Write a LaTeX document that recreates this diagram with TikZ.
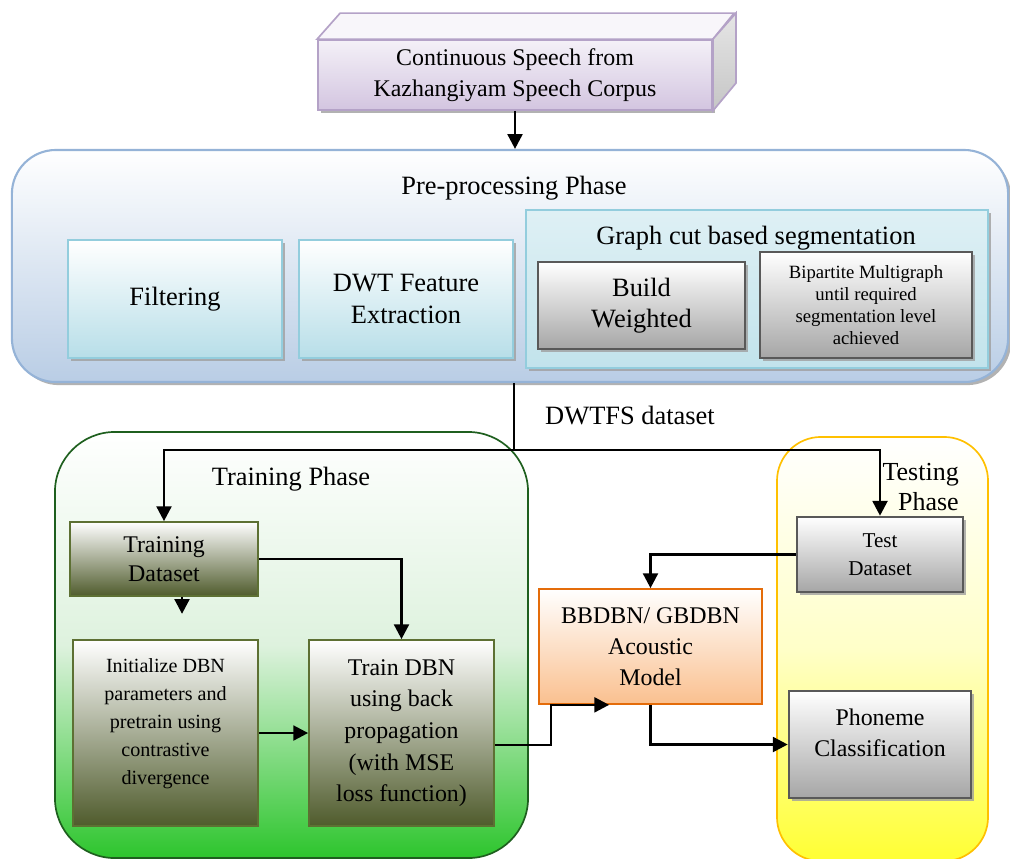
\documentclass[tikz,border=0pt]{standalone}
\usepackage{fontspec}
\setmainfont{Liberation Serif}
\usetikzlibrary{arrows.meta,shadows}

\definecolor{lavender}{RGB}{211,197,224}
\definecolor{lavedge}{RGB}{180,162,199}
\definecolor{skyfill}{RGB}{185,205,229}
\definecolor{skyedge}{RGB}{149,179,215}
\definecolor{aquafill}{RGB}{183,222,232}
\definecolor{aquaedge}{RGB}{147,205,221}
\definecolor{olive}{RGB}{79,91,44}
\definecolor{oliveedge}{RGB}{93,112,51}
\definecolor{leaf}{RGB}{45,197,45}
\definecolor{leafmid}{RGB}{222,242,222}
\definecolor{leafedge}{RGB}{30,95,30}
\definecolor{peach}{RGB}{250,192,143}
\definecolor{rust}{RGB}{228,108,10}
\definecolor{lemon}{RGB}{255,255,51}
\definecolor{lemonmid}{RGB}{255,255,200}
\definecolor{gold}{RGB}{255,192,0}

\tikzset{
    arr/.style={-{Triangle[length=10.5pt,width=10.5pt]}, line width=1.9pt},
    bigfont/.style={font=\fontsize{18.8}{22.5}\selectfont},
    shade/.style={drop shadow={shadow xshift=2.2pt, shadow yshift=-2.2pt, fill=gray!75, opacity=0.8}},
    aquabox/.style={draw=aquaedge, line width=1.6pt, top color=white, bottom color=aquafill,
        align=center, inner sep=0pt, bigfont, shade},
    graybox/.style={draw=black!65, line width=1.8pt, top color=white, bottom color=black!35,
        align=center, inner sep=0pt, shade},
    olivebox/.style={draw=oliveedge, line width=1.2pt, top color=white, bottom color=olive,
        align=center, inner sep=0pt}
}

\begin{document}
\begin{tikzpicture}[x=0.025cm, y=-0.025cm]
    \useasboundingbox (0,0) rectangle (1010,858);

    \node[draw=leafedge, line width=1.2pt, rounded corners=1.5cm, top color=white, bottom color=leaf, middle color=leafmid,
        minimum width=11.825cm, minimum height=10.65cm] (trainphase) at (291.5,645) {};
    \node[draw=gold, line width=1.2pt, rounded corners=1.1cm, top color=white, bottom color=lemon, middle color=lemonmid,
        minimum width=5.275cm, minimum height=10.6cm] (testphase) at (882.5,649) {};

    \node[draw=lavedge, line width=1.2pt, top color=lavender!25, bottom color=lavender, minimum width=9.85cm, minimum height=1.75cm,
        align=center, inner sep=0pt, font=\fontsize{17}{22}\selectfont, shade] (corpus) at (515,75) {Continuous Speech from\\Kazhangiyam Speech Corpus};
    \draw[draw=lavedge, line width=1.2pt, fill=lavender!15] (corpus.north west) -- ++(23,-26) -- ++(394,0) -- (corpus.north east) -- cycle;
    \draw[draw=lavedge, line width=1.2pt, top color=gray!20, bottom color=gray!45] (corpus.north east) -- ++(23,-26) -- ++(0,70) -- (corpus.south east) -- cycle;

    \node[draw=skyedge, line width=1.5pt, rounded corners=1.1cm, top color=white, bottom color=skyfill,
        minimum width=24.9cm, minimum height=5.8cm, shade] (preproc) at (510,266) {};
    \node[bigfont] (prelabel) at (514,188) {Pre-processing Phase};
    \node[aquabox, minimum width=5.35cm, minimum height=2.95cm] (filter) at (175,299) {Filtering};
    \node[aquabox, minimum width=5.35cm, minimum height=2.95cm] (dwt) at (406,299) {DWT Feature\\Extraction};
    \node[draw=aquaedge, line width=1.6pt, top color=aquafill!45, bottom color=aquafill!85, minimum width=11.55cm, minimum height=3.95cm, shade] (graphcut) at (757,289) {};
    \node[bigfont] (graphlabel) at (756,238) {Graph cut based segmentation};
    \node[graybox, bigfont, minimum width=5.175cm, minimum height=2.175cm] (build) at (641.5,305.5) {Build\\Weighted};
    \node[graybox, font=\fontsize{13.3}{15.5}\selectfont, minimum width=5.3cm, minimum height=2.65cm] (bipartite) at (866,305) {Bipartite Multigraph\\until required\\segmentation level\\achieved};

    \node[bigfont] (dwtfs) at (630,416) {DWTFS dataset};
    \node[bigfont] (trainlabel) at (291,479) {Training Phase};
    \node[font=\fontsize{18.5}{21.5}\selectfont, align=right, anchor=east, inner sep=0pt] (testlabel) at (959,487) {Testing\\Phase};

    \node[olivebox, font=\fontsize{17}{21}\selectfont, minimum width=4.7cm, minimum height=1.85cm] (traindata) at (164,559) {Training\\Dataset};
    \node[olivebox, font=\fontsize{14.3}{20}\selectfont, minimum width=4.625cm, minimum height=4.65cm] (init) at (165.5,733) {Initialize DBN\\parameters and\\pretrain using\\contrastive\\divergence\\[-10pt]\strut};
    \node[olivebox, font=\fontsize{17}{22.5}\selectfont, minimum width=4.625cm, minimum height=4.65cm] (traindbn) at (401.5,733) {Train DBN\\using back\\propagation\\(with MSE\\loss function)};
    \node[draw=rust, line width=1.2pt, top color=white, bottom color=peach, align=center, inner sep=0pt, font=\fontsize{17}{22}\selectfont,
        minimum width=5.575cm, minimum height=2.875cm] (acoustic) at (650.5,646.5) {BBDBN/ GBDBN\\Acoustic\\Model};
    \node[graybox, font=\fontsize{15}{20}\selectfont, minimum width=4.15cm, minimum height=1.875cm] (testdata) at (880,554.5) {Test\\Dataset};
    \node[graybox, font=\fontsize{17}{22}\selectfont, minimum width=4.55cm, minimum height=2.675cm] (phoneme) at (880,744.5) {Phoneme\\Classification\\[-11.4pt]\strut};

    \coordinate (split) at (514,450);
    \draw[arr] (corpus.south) -- (corpus.south |- preproc.north);
    \draw[line width=1.9pt] (split |- preproc.south) -- (split);
    \draw[arr] (split) -| (traindata.north);
    \draw[arr] (split) -| (testdata.north);
    \draw[arr] ([xshift=0.45cm]traindata.south) -- ++(0,17);
    \draw[arr] (traindata.east) -| (traindbn.north);
    \draw[arr] (init.east) -- (traindbn.west);
    \draw[arr] ([yshift=-0.3cm]traindbn.east) -| ([xshift=0.325cm]acoustic.south west) -- ([xshift=1.775cm]acoustic.south west);
    \draw[arr] (testdata.west) -| (acoustic.north);
    \draw[arr] (acoustic.south) |- (phoneme.west);
\end{tikzpicture}
\end{document}
